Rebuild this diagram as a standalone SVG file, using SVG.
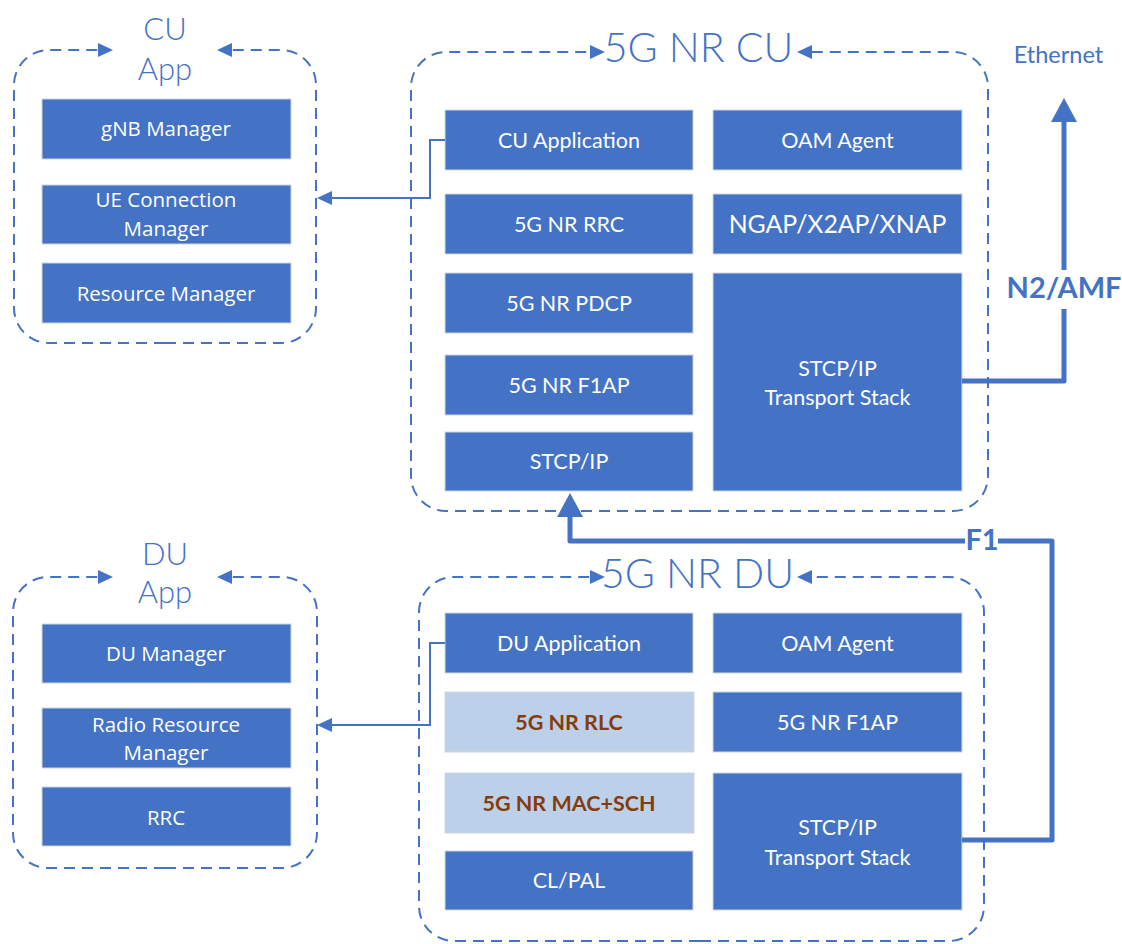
<svg xmlns="http://www.w3.org/2000/svg" width="1122" height="944" viewBox="0 0 1122 944">
<style>
.bg{fill:#FFFFFF}
.cont{fill:none;stroke:#4472C4;stroke-width:2;stroke-dasharray:11 7}
.box{fill:#4472C4;stroke:#D0D5DE;stroke-width:1}
.lbox{fill:#BDD0E9;stroke:#D0D5DE;stroke-width:1}
.t{font-family:"Lato","Carlito","Liberation Sans",sans-serif;font-size:21.5px;fill:#FFFFFF;text-anchor:middle}
.tbig{font-size:24.8px}
.tb{font-family:"Lato","Carlito","Liberation Sans",sans-serif;font-size:21.5px;font-weight:bold;fill:#843C0C;text-anchor:middle}
.s{font-family:"Open Sans","Noto Sans","Liberation Sans",sans-serif;font-size:20.5px;fill:#FFFFFF;text-anchor:middle}
.title{font-family:"Lato","Carlito","Liberation Sans",sans-serif;font-weight:300;fill:#4472C4;text-anchor:middle}
.lab{font-family:"Lato","Carlito","Liberation Sans",sans-serif;font-weight:bold;fill:#4472C4;text-anchor:middle}
.thin{fill:none;stroke:#4472C4;stroke-width:2}
.thick{fill:none;stroke:#4472C4;stroke-width:5}
</style>
<defs>
<marker id="aS" markerUnits="userSpaceOnUse" markerWidth="15" markerHeight="14" refX="0" refY="7" orient="auto"><path d="M0,0 L15,7 L0,14 z" fill="#4472C4"/></marker>
<marker id="aL" markerUnits="userSpaceOnUse" markerWidth="24" markerHeight="26" refX="0" refY="13" orient="auto"><path d="M0,0 L24,13 L0,26 z" fill="#4472C4"/></marker>
</defs>
<rect class="bg" x="0" y="0" width="1122" height="944"/>

<g id="cu-app">
<path class="cont" d="M165,343 H49 A35,35 0 0 1 14,308 V85 A35,35 0 0 1 49,50 H98" marker-end="url(#aS)"/>
<path class="cont" d="M165,343 H281 A35,35 0 0 0 316,308 V85 A35,35 0 0 0 281,50 H232" marker-end="url(#aS)"/>
<text class="title" x="165" y="40" font-size="31">CU</text>
<text class="title" x="165" y="80" font-size="31">App</text>
</g>
<g id="gnb-manager"><rect class="box" x="42" y="99" width="249" height="60"/><text class="s" x="166" y="136.3">gNB Manager</text></g>
<g id="ue-connection-manager"><rect class="box" x="42" y="185" width="249" height="59"/><text class="s" x="166" y="207.3">UE Connection</text><text class="s" x="166" y="235.8">Manager</text></g>
<g id="resource-manager"><rect class="box" x="42" y="263" width="249" height="60"/><text class="s" x="166" y="300.8">Resource Manager</text></g>

<g id="cu">
<path class="cont" d="M700,511 H446 A35,35 0 0 1 411,476 V87 A35,35 0 0 1 446,52 H590" marker-end="url(#aS)"/>
<path class="cont" d="M700,511 H953 A35,35 0 0 0 988,476 V87 A35,35 0 0 0 953,52 H812" marker-end="url(#aS)"/>
<text class="title" x="698.5" y="62" font-size="41">5G NR CU</text>
</g>
<g id="cu-application"><rect class="box" x="445" y="110" width="248" height="60"/><text class="t" x="569" y="147.7">CU Application</text></g>
<g id="cu-oam-agent"><rect class="box" x="713" y="110" width="249" height="60"/><text class="t" x="837.5" y="147.7">OAM Agent</text></g>
<g id="cu-rrc"><rect class="box" x="445" y="194" width="248" height="60"/><text class="t" x="569" y="231.7">5G NR RRC</text></g>
<g id="ngap"><rect class="box" x="713" y="194" width="249" height="60"/><text class="t tbig" x="837.5" y="232.8">NGAP/X2AP/XNAP</text></g>
<g id="cu-pdcp"><rect class="box" x="445" y="273" width="248" height="60"/><text class="t" x="569" y="310.7">5G NR PDCP</text></g>
<g id="cu-f1ap"><rect class="box" x="445" y="355" width="248" height="60"/><text class="t" x="569" y="392.7">5G NR F1AP</text></g>
<g id="cu-stcp"><rect class="box" x="445" y="432" width="248" height="59"/><text class="t" x="569" y="469.2">STCP/IP</text></g>
<g id="cu-transport"><rect class="box" x="713" y="273" width="249" height="218"/><text class="t" x="837.5" y="375.7">STCP/IP</text><text class="t" x="837.5" y="404.7">Transport Stack</text></g>

<g id="du-app">
<path class="cont" d="M165,868 H48 A35,35 0 0 1 13,833 V612 A35,35 0 0 1 48,577 H98" marker-end="url(#aS)"/>
<path class="cont" d="M165,868 H282 A35,35 0 0 0 317,833 V612 A35,35 0 0 0 282,577 H232" marker-end="url(#aS)"/>
<text class="title" x="165" y="565" font-size="31">DU</text>
<text class="title" x="165" y="603" font-size="31">App</text>
</g>
<g id="du-manager"><rect class="box" x="42" y="624" width="249" height="59"/><text class="s" x="166" y="660.6">DU Manager</text></g>
<g id="radio-resource-manager"><rect class="box" x="42" y="708" width="249" height="60"/><text class="s" x="166" y="732.1">Radio Resource</text><text class="s" x="166" y="760.1">Manager</text></g>
<g id="rrc"><rect class="box" x="42" y="787" width="249" height="59"/><text class="s" x="166" y="824.8">RRC</text></g>

<g id="du">
<path class="cont" d="M700,941 H454 A35,35 0 0 1 419,906 V612 A35,35 0 0 1 454,577 H590" marker-end="url(#aS)"/>
<path class="cont" d="M700,941 H949 A35,35 0 0 0 984,906 V612 A35,35 0 0 0 949,577 H812" marker-end="url(#aS)"/>
<text class="title" x="697.5" y="588" font-size="41">5G NR DU</text>
</g>
<g id="du-application"><rect class="box" x="445" y="613" width="248" height="60"/><text class="t" x="569" y="650.7">DU Application</text></g>
<g id="du-oam-agent"><rect class="box" x="713" y="613" width="249" height="60"/><text class="t" x="837.5" y="650.7">OAM Agent</text></g>
<g id="du-rlc"><rect class="lbox" x="445" y="692" width="249" height="60"/><text class="tb" x="569" y="729.7">5G NR RLC</text></g>
<g id="du-f1ap"><rect class="box" x="713" y="692" width="249" height="60"/><text class="t" x="837.5" y="729.7">5G NR F1AP</text></g>
<g id="du-mac"><rect class="lbox" x="445" y="773" width="249" height="60"/><text class="tb" x="569" y="810.7">5G NR MAC+SCH</text></g>
<g id="du-cl-pal"><rect class="box" x="445" y="851" width="248" height="59"/><text class="t" x="569" y="888.2">CL/PAL</text></g>
<g id="du-transport"><rect class="box" x="713" y="773" width="249" height="137"/><text class="t" x="837.5" y="834.7">STCP/IP</text><text class="t" x="837.5" y="864.7">Transport Stack</text></g>

<g id="ethernet"><text x="1058.5" y="63" font-family="Lato, Carlito, 'Liberation Sans', sans-serif" font-size="23.5" fill="#4472C4" text-anchor="middle">Ethernet</text></g>

<g id="connectors">
<path class="thin" d="M445,140 H430 V198 H332" marker-end="url(#aS)"/>
<path class="thin" d="M445,643 H430 V725 H332" marker-end="url(#aS)"/>
<path class="thick" d="M962,381 H1064 V122" stroke-linejoin="round" marker-end="url(#aL)"/>
<path class="thick" d="M962,840 H1052 V541 H570 V517" stroke-linejoin="round" marker-end="url(#aL)"/>
<rect x="1000" y="270" width="122" height="39" fill="#FFFFFF"/>
<text class="lab" x="1064" y="298" font-size="29">N2/AMF</text>
<rect x="965" y="528" width="33" height="26" fill="#FFFFFF"/>
<text class="lab" x="982" y="550" font-size="29">F1</text>
</g>
</svg>
